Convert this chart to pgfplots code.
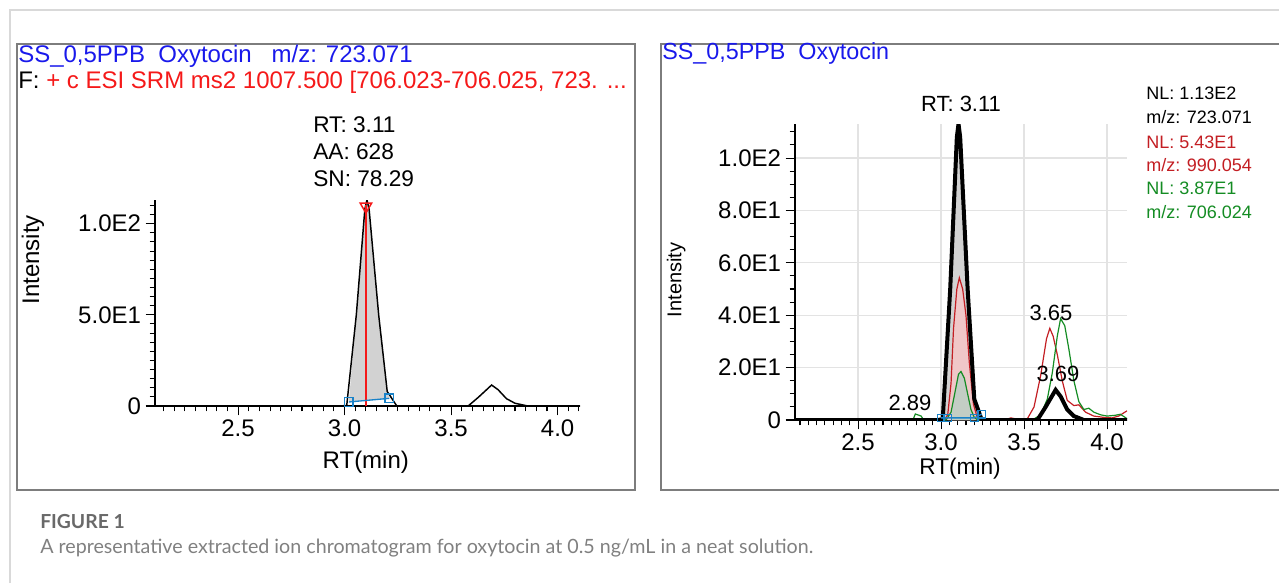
\documentclass[border=0pt]{standalone}
\usepackage{fontspec}
\setmainfont{Liberation Sans}
\newfontfamily\lato{Lato}
\usepackage{pgfplots}
\usepackage{pgfplotstable}
\pgfplotsset{compat=1.18}

\definecolor{tblue}{RGB}{25,25,235}
\definecolor{tred}{RGB}{245,25,25}
\definecolor{dred}{RGB}{195,30,35}
\definecolor{dgreen}{RGB}{20,140,35}
\definecolor{boxblue}{RGB}{25,130,200}
\definecolor{framegray}{RGB}{125,125,125}
\definecolor{capgray}{RGB}{105,105,105}

\newcommand{\fs}[1]{\fontsize{#1}{#1}\selectfont}

% m/z 723.071 (same trace in both panels)
\pgfplotstableread{
rt int
2.11 0
2.98 0
3.01 0.3
3.055 50
3.095 108
3.105 113
3.115 108
3.16 50
3.20 8
3.245 0
3.58 0
3.63 5
3.69 11.5
3.72 9
3.76 4
3.80 1.5
3.86 0
4.13 0
}\trblack

% m/z 990.054
\pgfplotstableread{
rt int
2.11 0
3.02 0
3.04 2
3.06 14
3.075 35
3.095 50
3.11 54.3
3.13 50
3.15 40
3.17 22
3.195 6
3.22 0.5
3.25 0
3.38 0
3.42 0.8
3.46 0.3
3.52 0.5
3.56 5
3.60 17
3.635 31
3.655 35
3.675 32
3.70 25
3.73 15
3.76 7.5
3.80 5.5
3.83 5.8
3.87 3
3.92 1.5
3.98 1
4.03 0.8
4.07 1.5
4.12 3.5
}\trred

% m/z 706.024
\pgfplotstableread{
rt int
2.11 0
2.83 0
2.845 2.3
2.88 1.5
2.895 0
3.03 0
3.06 3
3.085 11
3.105 17.5
3.12 18.5
3.14 16
3.16 10
3.18 4
3.20 1
3.22 0
3.55 0
3.60 2
3.64 8
3.67 18
3.70 32
3.72 38.7
3.745 36
3.77 27
3.80 15
3.83 7
3.86 4
3.89 4.5
3.92 3
3.96 2
4.00 1.5
4.05 1.8
4.08 2.2
4.12 0.5
}\trgreen

\pgfplotsset{
  chrom/.style={
    scale only axis,
    axis lines*=left,
    axis line style={-, line width=0.9pt},
    tick align=outside,
    tick style={black, line width=0.8pt},
    major tick length=7pt,
    minor tick length=4pt,
    xtick={2.5,3.0,3.5,4.0},
    xticklabels={2.5,3.0,3.5,4.0},
    minor xtick={2.15,2.20,...,4.10},
    minor ytick={5,10,...,110},
    ymin=0, ymax=113,
    tick label style={font=\fs{18}},
    label style={font=\fs{18}},
  },
}

\begin{document}
\begin{tikzpicture}[x=0.75pt,y=0.75pt]
\useasboundingbox (0,0) rectangle (1279,583);

% page frame
\draw[gray!30, line width=0.8pt] (10,0) -- (10,573) -- (1279,573);
\draw[framegray, line width=1.3pt] (17,539) rectangle (635,93);
\draw[framegray, line width=1.3pt] (1290,539) -- (661,539) -- (661,93) -- (1290,93);

% ---------- left panel ----------
\begin{axis}[chrom,
  at={(116.25pt,132.75pt)}, anchor=south west,
  width=318.75pt, height=154.5pt,
  xmin=2.11, xmax=4.105,
  ytick={0,50,100},
  yticklabels={0,5.0E1,1.0E2},
  xlabel={RT(min)},
  ylabel={Intensity},
  xlabel style={at={(axis description cs:0.496,-0.272)}, anchor=center},
  ylabel style={at={(axis description cs:-0.287,0.71)}, anchor=center},
]
\addplot[fill=gray!35, draw=none] coordinates {
  (3.02,2.2) (3.055,50) (3.095,108) (3.105,113) (3.115,108) (3.16,50) (3.20,8) (3.21,4.2)
} -- cycle;
\addplot[black, line width=1.1pt] table[x=rt, y=int] {\trblack};
\addplot[tred, line width=1.1pt] coordinates {(3.10,0) (3.10,110)};
\addplot[tred, only marks, mark=triangle, mark size=5pt,
  mark options={rotate=180, line width=1.1pt}] coordinates {(3.10,109.5)};
\addplot[boxblue, line width=1pt, mark=square, mark size=3.2pt] coordinates {(3.02,2.2) (3.21,4.2)};
\end{axis}

\node[anchor=west, inner sep=0, text=tblue, font=\fs{18}] at (18,527)
  {SS\_0,5PPB\ \ Oxytocin\ \ \ m/z: 723.071};
\node[anchor=west, inner sep=0, font=\fs{18}] at (18,501)
  {F: \textcolor{tred}{+ c ESI SRM ms2 1007.500 [706.023-706.025, 723. ...}};
\node[anchor=west, inner sep=0, font=\fs{17}] at (313,458) {RT: 3.11};
\node[anchor=west, inner sep=0, font=\fs{17}] at (313,431) {AA: 628};
\node[anchor=west, inner sep=0, font=\fs{17}] at (313,404) {SN: 78.29};

% ---------- right panel ----------
\begin{axis}[chrom,
  at={(596.25pt,122.25pt)}, anchor=south west,
  width=249pt, height=222pt,
  xmin=2.12, xmax=4.12,
  ytick={0,20,40,60,80,100},
  yticklabels={0,2.0E1,4.0E1,6.0E1,8.0E1,1.0E2},
  grid=major,
  major grid style={gray!22, line width=0.9pt},
  xlabel={RT(min)},
  ylabel={Intensity},
  xlabel style={font=\fs{17}, at={(axis description cs:0.497,-0.163)}, anchor=center},
  ylabel style={font=\fs{15}, at={(axis description cs:-0.358,0.473)}, anchor=center},
]
\addplot[fill=gray!35, draw=none] table[x=rt, y=int,
  restrict x to domain=3.0:3.25] {\trblack} \closedcycle;
\addplot[fill=dred!25, draw=none] table[x=rt, y=int,
  restrict x to domain=3.03:3.23] {\trred} \closedcycle;
\addplot[fill=dgreen!22!gray!40, draw=none] table[x=rt, y=int,
  restrict x to domain=3.04:3.21] {\trgreen} \closedcycle;
\addplot[dred, line width=0.9pt] table[x=rt, y=int] {\trred};
\addplot[dgreen, line width=0.9pt] table[x=rt, y=int] {\trgreen};
\addplot[black, line width=3pt] table[x=rt, y=int] {\trblack};
\addplot[boxblue, line width=1pt, mark=square, mark size=2.8pt]
  coordinates {(3.00,0.8) (3.04,0.8) (3.20,0.8) (3.245,2.2)};
\end{axis}

\node[anchor=west, inner sep=0, text=tblue, font=\fs{17.5}] at (662,530)
  {SS\_0,5PPB\ \ Oxytocin};
\node[font=\fs{16.5}] at (961,479) {RT: 3.11};
\node[font=\fs{16.5}] at (910,180) {2.89};
\node[font=\fs{16.5}] at (1051,270) {3.65};
\node[font=\fs{16.5}] at (1058,209) {3.69};

\node[anchor=west, inner sep=0, font=\fs{13.5}] at (1146,490) {NL: 1.13E2};
\node[anchor=west, inner sep=0, font=\fs{13.5}] at (1146,466) {m/z: 723.071};
\node[anchor=west, inner sep=0, font=\fs{13.5}, text=dred] at (1146,441) {NL: 5.43E1};
\node[anchor=west, inner sep=0, font=\fs{13.5}, text=dred] at (1146,418) {m/z: 990.054};
\node[anchor=west, inner sep=0, font=\fs{13.5}, text=dgreen] at (1146,395) {NL: 3.87E1};
\node[anchor=west, inner sep=0, font=\fs{13.5}, text=dgreen] at (1146,371) {m/z: 706.024};

% ---------- caption ----------
\node[anchor=west, inner sep=0, text=capgray, font=\lato\bfseries\fs{14.5}] at (40,61) {FIGURE 1};
\node[anchor=west, inner sep=0, text=capgray!85, font=\lato\fs{14.75}] at (40,35)
  {A representative extracted ion chromatogram for oxytocin at 0.5 ng/mL in a neat solution.};
\end{tikzpicture}
\end{document}
